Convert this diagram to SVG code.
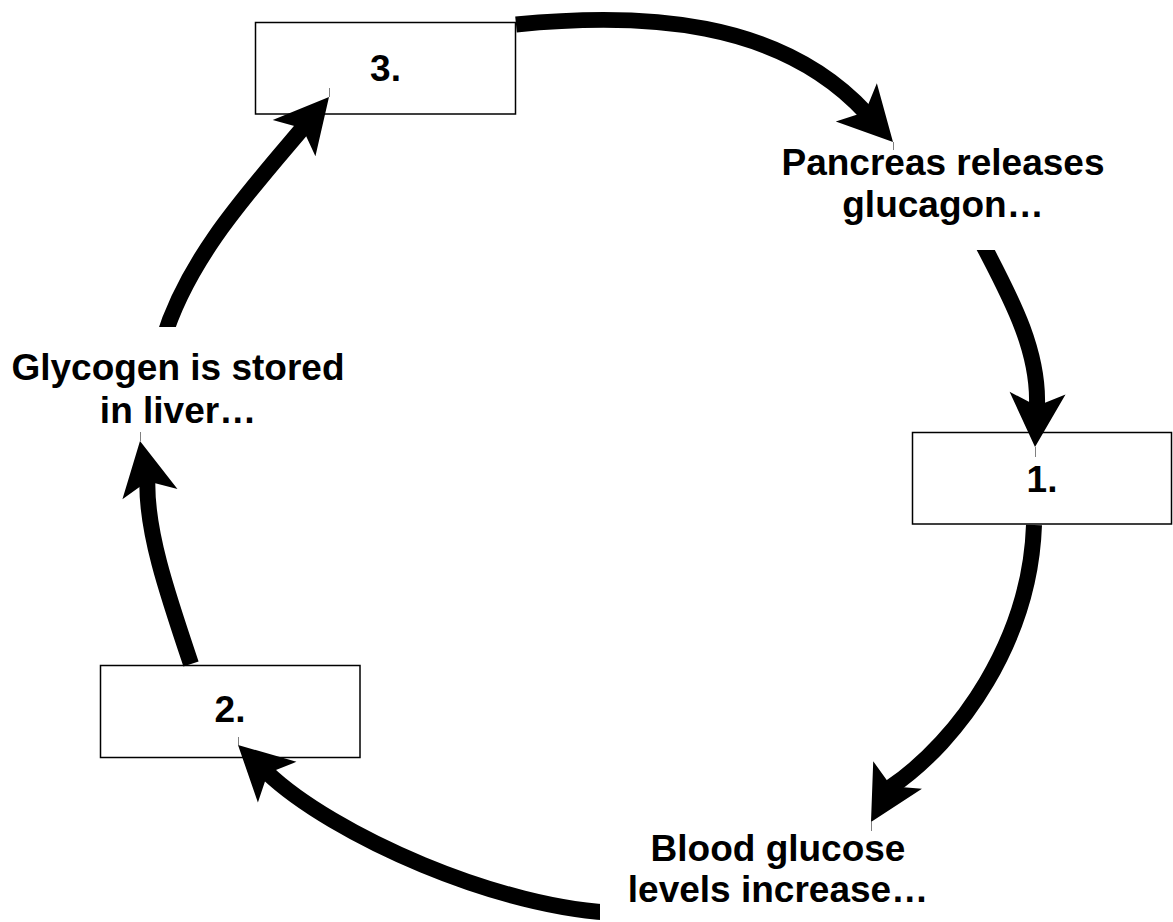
<svg xmlns="http://www.w3.org/2000/svg" xmlns:xlink="http://www.w3.org/1999/xlink" width="1173" height="922" viewBox="0 0 1173 922">
<style>
.box{fill:#fff;stroke:#000;stroke-width:1.5}
.bg{fill:#fff;stroke:none}
.t{font-family:"Liberation Sans",Arial,Helvetica,sans-serif;font-weight:bold;font-size:37px;fill:#000;text-anchor:middle}
.body{fill:none;stroke:#000;stroke-width:16}
.tick{stroke:#808080;stroke-width:1}
</style>
<defs>
<path id="head" d="M0,0 L-54,-28 L-41,0 L-54,28 Z" fill="#000"/>
</defs>
<rect width="1173" height="922" fill="#fff"/>
<g id="box1"><rect class="box" x="912.5" y="432.5" width="259" height="91.5"/><text class="t" x="1042" y="491.5">1.</text></g>
<g id="box2"><rect class="box" x="100.5" y="665.5" width="259.5" height="92"/><text class="t" x="230" y="722">2.</text></g>
<g id="box3"><rect class="box" x="255.5" y="22.5" width="260" height="91.5"/><text class="t" x="385.5" y="81">3.</text></g>
<g id="connectors">
<path class="body" d="M516,24.5 C642,12 779,19 865.8,112.6"/>
<use xlink:href="#head" transform="translate(893,142) rotate(47.2)"/>
<line class="tick" x1="893.5" y1="142" x2="893.5" y2="150"/>
<path class="body" d="M978,235 C1005,288 1039.8,346 1036.9,407"/>
<use xlink:href="#head" transform="translate(1035,447) rotate(92.7)"/>
<line class="tick" x1="1035.5" y1="447" x2="1035.5" y2="457"/>
<path class="body" d="M1034,525 C1030,640 960,740 890.7,787.2"/>
<use xlink:href="#head" transform="translate(871,822) rotate(119.5)"/>
<line class="tick" x1="871.5" y1="822" x2="871.5" y2="831"/>
<path class="body" d="M620,913 C500,910 332,834.4 267,772.5"/>
<use xlink:href="#head" transform="translate(238,745) rotate(223.5)"/>
<line class="tick" x1="238.5" y1="745" x2="238.5" y2="737"/>
<path class="body" d="M191,664 C166,590 146,530 147.4,480.3"/>
<use xlink:href="#head" transform="translate(140,441) rotate(259.4)"/>
<line class="tick" x1="140.5" y1="441" x2="140.5" y2="432"/>
<path class="body" d="M163,340 C187.7,258.4 248.3,192.4 303.2,127.5"/>
<use xlink:href="#head" transform="translate(329,97) rotate(-49.7)"/>
<line class="tick" x1="329.5" y1="97" x2="329.5" y2="88"/>
</g>
<g id="label-pancreas"><rect class="bg" x="765" y="150" width="356" height="100"/><text class="t" x="943" y="175">Pancreas releases</text><text class="t" x="943" y="217">glucagon…</text></g>
<g id="label-glycogen"><rect class="bg" x="0" y="327" width="356" height="105"/><text class="t" x="178" y="380">Glycogen is stored</text><text class="t" x="178" y="423">in liver…</text></g>
<g id="label-blood"><rect class="bg" x="600" y="831" width="356" height="91"/><text class="t" x="778" y="861">Blood glucose</text><text class="t" x="778" y="902">levels increase…</text></g>
</svg>
